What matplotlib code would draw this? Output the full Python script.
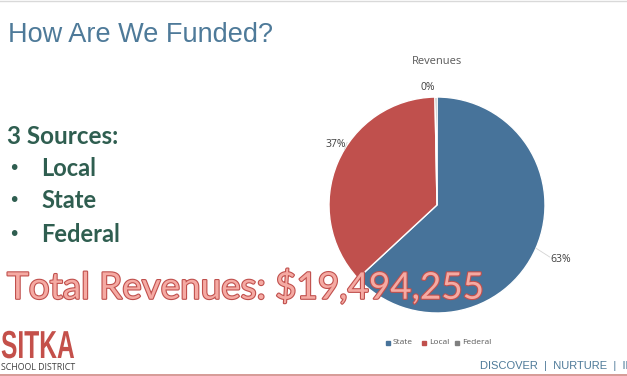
import numpy as np
import matplotlib.pyplot as plt
import matplotlib.patheffects as pe
from matplotlib.textpath import TextPath
from matplotlib.patches import PathPatch
from matplotlib.font_manager import FontProperties
from matplotlib.transforms import Affine2D

# revenue shares (percent)
sources = ['State', 'Local', 'Federal']
shares = [63.1, 36.6, 0.3]
pct_labels = ['63%', '37%', '0%']
colors = ['#47739a', '#c0504d', '#7f7f7f']
bullets = ['Local', 'State', 'Federal']
total_text = 'Total Revenues: $19,494,255'

W, H = 627, 376
fig = plt.figure(figsize=(W / 100, H / 100), dpi=100)
ax = fig.add_axes([0, 0, 1, 1])

cx, cy, R = 437, H - 205, 108
wedges, _ = ax.pie(shares, colors=colors, startangle=90, counterclock=False,
                   center=(cx, cy), radius=R,
                   wedgeprops=dict(edgecolor='white', linewidth=1))
ax.set_xlim(0, W)
ax.set_ylim(0, H)
ax.set_aspect('equal')
ax.axis('off')

# percent labels outside the wedges (with faint leader lines)
dists = [1.25, 1.09, 1.09]
tweak = [0, -8, 4]
for w, lab, d, tw in zip(wedges, pct_labels, dists, tweak):
    mid = np.deg2rad((w.theta1 + w.theta2) / 2 + tw)
    lx, ly = cx + R * d * np.cos(mid), cy + R * d * np.sin(mid)
    ax.text(lx, ly, lab, ha='center', va='center', fontsize=7.5,
            color='#404040', family='Open Sans')
    if lab != '0%':
        side = np.sign(np.cos(mid))
        ax.plot([lx - side * 11, cx + R * np.cos(mid)],
                [ly + 2, cy + R * np.sin(mid)],
                color='#d4d4d4', lw=0.6)

ax.text(437, H - 62, 'Revenues', ha='center', va='center', fontsize=8,
        color='#595959', family='Open Sans')

# legend row
lx = 388
for name, c in zip(sources, colors):
    ax.plot(lx, H - 343, 's', ms=2.8, color=c)
    ax.text(lx + 5, H - 343, name, ha='left', va='center', fontsize=6,
            color='#595959', family='Open Sans')
    lx += {'State': 36, 'Local': 33, 'Federal': 40}[name]

# slide text
ax.text(8, H - 35, 'How Are We Funded?', ha='left', va='center', fontsize=19.5,
        color='#4e7a99', family='Liberation Sans')
ax.text(7, H - 136, '3 Sources:', ha='left', va='center', fontsize=17.5,
        color='#2f5e50', family='Lato', weight='bold')
for i, b in enumerate(bullets):
    y = H - (168 + 33 * i)
    ax.text(8, y, '\u2022', ha='left', va='center', fontsize=14,
            color='#2f5e50', family='DejaVu Sans')
    ax.text(41, y, b, ha='left', va='center', fontsize=17,
            color='#2f5e50', family='Lato', weight='bold')

ax.text(7, H - 287, total_text, ha='left', va='center', fontsize=26.5,
        color='#f5aaa3', family='Lato',
        path_effects=[pe.withStroke(linewidth=1.6, foreground='#c0504d')])

# district logo, squeezed horizontally
tp = TextPath((0, 0), 'SITKA', size=39,
              prop=FontProperties(family='Liberation Sans', weight='bold'))
tr = Affine2D().scale(0.63, 1.0).translate(1, H - 358)
ax.add_patch(PathPatch(tr.transform_path(tp), color='#c4504a', lw=0))
ax.text(1, H - 367, 'SCHOOL DISTRICT', ha='left', va='center', fontsize=6.4,
        color='#404040', family='Open Sans')

ax.text(480, H - 366, 'DISCOVER  |  NURTURE  |  INS', ha='left', va='center',
        fontsize=8, color='#4e7a99', family='Liberation Sans', clip_on=True)

# thin rules top and bottom
ax.plot([0, W], [H - 1, H - 1], color='#d9d9d9', lw=1)
ax.plot([0, W], [1.2, 1.2], color='#d08a85', lw=1.2)

fig.savefig('out.png', dpi=100)
